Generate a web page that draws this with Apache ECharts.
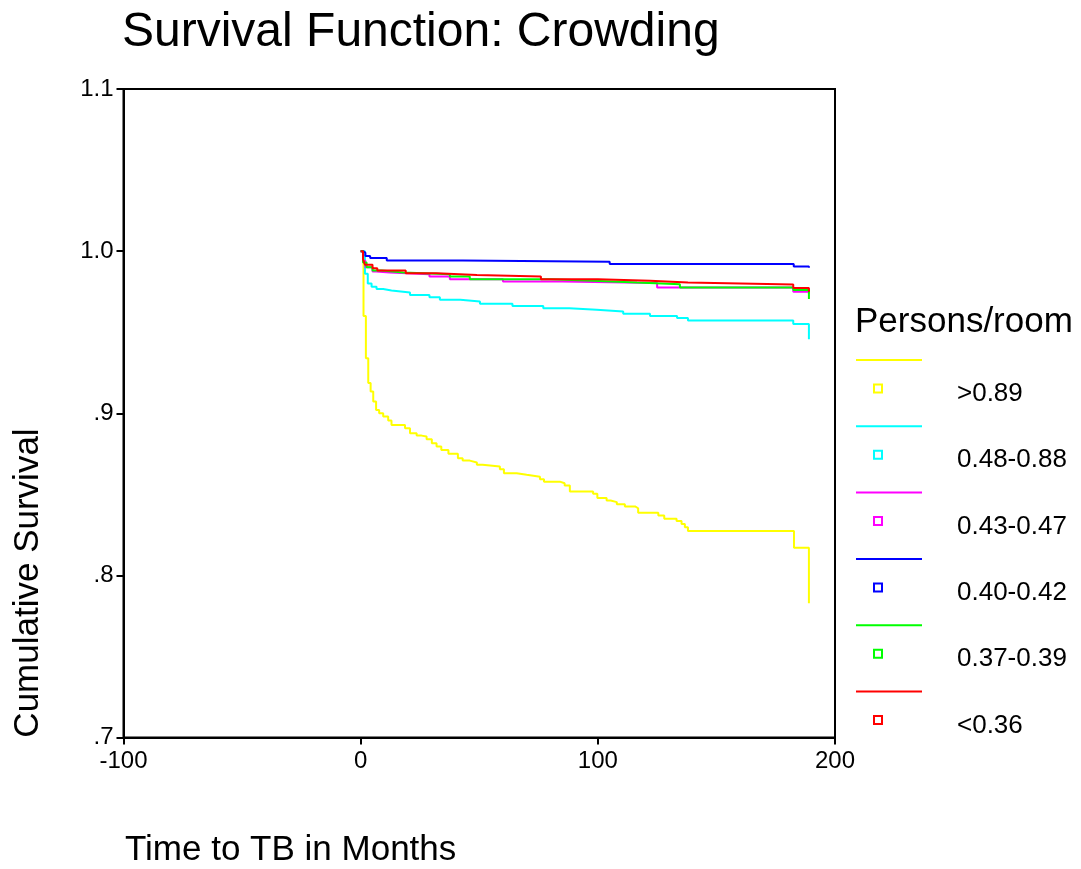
<!DOCTYPE html>
<html>
<head>
<meta charset="utf-8">
<script src="https://cdn.jsdelivr.net/npm/echarts@6/dist/echarts.min.js"></script>
<style>
html,body{margin:0;padding:0;background:#fff;}
#chart{width:1081px;height:869px;}
</style>
</head>
<body>
<div id="chart"></div>
<script>
// ---- data ----
const groupNames = ['>0.89', '0.48-0.88', '0.43-0.47', '0.40-0.42', '0.37-0.39', '<0.36'];
const groupColors = ['#ffff00', '#00ffff', '#ff00ff', '#0000ff', '#00ff00', '#ff0000'];

// [time in months, cumulative survival] — Kaplan-Meier steps
const survGt089 = [[0,1.0],[1.2,0.96],[2.2,0.934],[3.2,0.9186],[4.2,0.9134],[5.3,0.9072],[6.5,0.902],[7.8,0.9],[9.5,0.898],[11.6,0.8955],[13,0.8928],[18.7,0.8908],[20.8,0.8877],[23.6,0.8862],[25.7,0.8856],[27.8,0.884],[30,0.8815],[32,0.8795],[34,0.8774],[37,0.875],[41,0.8723],[43,0.8708],[46,0.8696],[49,0.8682],[51.4,0.8671],[58.7,0.8655],[60.4,0.863],[65.8,0.862],[70,0.8609],[75.6,0.8593],[77.3,0.8578],[84,0.8568],[86,0.8554],[88.2,0.8517],[98,0.8503],[99.8,0.8477],[103.7,0.8462],[105.4,0.8452],[108,0.8439],[111.4,0.8425],[115.7,0.8414],[117,0.8387],[125.5,0.8369],[128,0.835],[133.2,0.8336],[135.3,0.8317],[136.7,0.8297],[138,0.8274],[182.7,0.817],[189,0.7828]];
const surv048_088 = [[0,1.0],[1.8,0.986],[3,0.98],[4.6,0.978],[6.7,0.9766],[9.5,0.9757],[13,0.9745],[20.8,0.973],[29,0.9716],[33.4,0.970],[42,0.969],[50.3,0.9675],[64,0.9662],[77,0.9648],[88,0.9638],[99.5,0.9627],[110.7,0.9613],[122,0.960],[133.4,0.9587],[138,0.9572],[182.4,0.955],[189,0.9457]];
const surv043_047 = [[0,1.0],[1,0.994],[2,0.99],[5,0.9875],[6.5,0.9868],[12.3,0.9858],[29,0.9843],[37.6,0.9826],[60,0.9813],[85,0.9803],[125,0.9776],[182.4,0.975],[189,0.9735]];
const surv040_042 = [[0,1.0],[1,0.999],[2,0.997],[4,0.9957],[11,0.9942],[43,0.9934],[105,0.992],[182.6,0.9905],[189,0.9897]];
const surv037_039 = [[0,1.0],[1,0.993],[2.5,0.99],[5,0.988],[8.8,0.9868],[18,0.9858],[37.6,0.9843],[46,0.9827],[80,0.9818],[98,0.9806],[116.5,0.9796],[134.6,0.9776],[182.4,0.976],[189,0.9704]];
const survLt036 = [[0,1.0],[1,0.995],[1.8,0.9916],[5,0.9895],[7,0.988],[19,0.9864],[32,0.9853],[49,0.9843],[76,0.9827],[100,0.9817],[122,0.9806],[138,0.9794],[182.4,0.9772],[189,0.975]];

const yTickValues = [0.7, 0.8, 0.9, 1.0, 1.1];
const yTickLabels = ['.7', '.8', '.9', '1.0', '1.1'];

const titleText = 'Survival Function: Crowding';
const xAxisTitle = 'Time to TB in Months';
const yAxisTitle = 'Cumulative Survival';
const legendTitle = 'Persons/room';

// ---- chart ----
const seriesData = [survGt089, surv048_088, surv043_047, surv040_042, surv037_039, survLt036];
const FONT = '"Liberation Sans", Arial, sans-serif';

const chart = echarts.init(document.getElementById('chart'), null, {renderer: 'canvas'});

const legendGraphics = [];
groupNames.forEach((name, i) => {
  const step = 66.3;
  legendGraphics.push({
    type: 'line', shape: {x1: 856, y1: 360 + step * i, x2: 922, y2: 360 + step * i},
    style: {stroke: groupColors[i], lineWidth: 2}
  });
  legendGraphics.push({
    type: 'rect', shape: {x: 874, y: 384.5 + step * i, width: 8, height: 8},
    style: {stroke: groupColors[i], fill: 'none', lineWidth: 2}
  });
  legendGraphics.push({
    type: 'text', x: 957, y: 394 + step * i,
    style: {text: name, fontSize: 26, fontFamily: FONT, fill: '#000', verticalAlign: 'middle', align: 'left'}
  });
});

const option = {
  animation: false,
  backgroundColor: '#fff',
  title: {
    text: titleText, left: 122, top: 9, padding: 0,
    textStyle: {fontFamily: FONT, fontSize: 48, fontWeight: 'normal', color: '#000'}
  },
  grid: {left: 123.5, right: 246, top: 89, bottom: 131.5, show: true, borderColor: '#000', borderWidth: 2, backgroundColor: 'transparent'},
  xAxis: {
    type: 'value', min: -100, max: 200, interval: 100,
    axisLine: {show: true, onZero: false, lineStyle: {color: '#000', width: 2}},
    axisTick: {show: true, length: 7, lineStyle: {color: '#000', width: 2}},
    axisLabel: {color: '#000', fontFamily: FONT, fontSize: 24, margin: 12},
    splitLine: {show: false}
  },
  yAxis: {
    type: 'value', min: 0.7, max: 1.1, interval: 0.1,
    axisLine: {show: true, onZero: false, lineStyle: {color: '#000', width: 2}},
    axisTick: {show: true, length: 7, lineStyle: {color: '#000', width: 2}},
    axisLabel: {
      color: '#000', fontFamily: FONT, fontSize: 24, margin: 10,
      formatter: function (v) {
        let best = 0;
        yTickValues.forEach((t, k) => { if (Math.abs(t - v) < Math.abs(yTickValues[best] - v)) best = k; });
        return yTickLabels[best];
      }
    },
    splitLine: {show: false}
  },
  series: seriesData.map((d, i) => ({
    name: groupNames[i], type: 'line', step: 'end', data: d,
    showSymbol: false, symbol: 'none',
    lineStyle: {color: groupColors[i], width: 2},
    itemStyle: {color: groupColors[i]},
    z: 2 + i
  })),
  graphic: [
    {type: 'text', x: 125, y: 850, style: {text: xAxisTitle, fontSize: 35, fontFamily: FONT, fill: '#000', verticalAlign: 'middle', align: 'left'}},
    {type: 'text', x: 28, y: 583, rotation: Math.PI / 2, style: {text: yAxisTitle, fontSize: 35, fontFamily: FONT, fill: '#000', verticalAlign: 'middle', align: 'center'}},
    {type: 'text', x: 855, y: 322, style: {text: legendTitle, fontSize: 35, fontFamily: FONT, fill: '#000', verticalAlign: 'middle', align: 'left'}}
  ].concat(legendGraphics)
};
chart.setOption(option);
</script>
</body>
</html>
